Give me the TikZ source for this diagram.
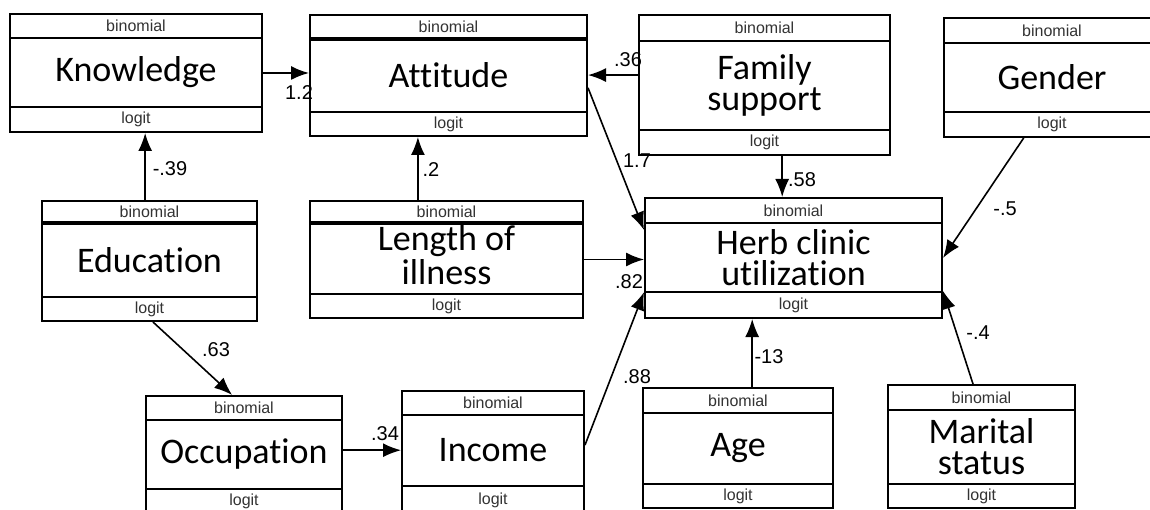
\documentclass[tikz,border=0pt]{standalone}
\usepackage{fontspec}
\setmainfont{Carlito}[Ligatures={NoCommon}]
\newfontfamily\labf{Liberation Sans}
\usetikzlibrary{arrows.meta,calc,fit}
\tikzset{
  varframe/.style={draw, line width=2pt, inner sep=0pt, fill=white},
  sepline/.style={line width=2pt},
  thicksep/.style={line width=4pt},
  arr/.style={line width=1.6pt, -{Latex[length=18pt,width=14pt]}},
  smalltxt/.style={font=\labf\fontsize{16}{16}\selectfont, inner sep=0pt, text=black!80},
  maintxt/.style={font=\fontsize{36}{31}\selectfont, align=center, inner sep=0pt},
  lbl/.style={font=\labf\fontsize{20}{20}\selectfont, inner sep=0pt},
}
% #1 sep style, #2 name, #3 x1, #4 y1, #5 x2, #6 y2, #7 y of binomial line, #8 y of logit line, #9 text
\newcommand\semvar[9][sepline]{%
  \node[varframe, fit={(#3,#4) (#5,#6)}] (#2) {};
  \draw[#1] (#3,#7) -- (#5,#7);
  \draw[sepline] (#3,#8) -- (#5,#8);
  \node[smalltxt] (#2-bin) at ({(#3+#5)/2},{(#4+#7)/2}) {binomial};
  \node[maintxt] (#2-txt) at ({(#3+#5)/2},{(#7+#8)/2}) {#9};
  \node[smalltxt] (#2-log) at ({(#3+#5)/2},{(#8+#6)/2}) {logit};
}
\begin{document}
\begin{tikzpicture}[x=1pt,y=-1pt]
\useasboundingbox (0,0) rectangle (1150,510);
\fill[white] (0,0) rectangle (1150,510);
\clip (0,0) rectangle (1150,510);

\semvar{know}{10}{14}{262}{132}{38}{107}{Knowledge}
\semvar[thicksep]{att}{310}{15}{587}{136}{39}{112}{Attitude}
\semvar{fam}{639}{15}{890}{155}{41}{130}{Family\\support}
\semvar{gen}{944}{18}{1160}{137}{43}{112}{Gender}
\semvar[thicksep]{edu}{42}{201}{257}{321}{223}{297}{Education}
\semvar[thicksep]{len}{310}{201}{583}{318}{223}{294}{}
\node[maintxt, font=\fontsize{36}{34}\selectfont] (len-txt2) at (446.5,255) {Length of\\illness};
\semvar{herb}{645}{198}{942}{318}{223}{292}{Herb clinic\\utilization}
\semvar{occ}{146}{396}{342}{514}{420}{489}{Occupation}
\semvar{inc}{402}{391}{584}{514}{415}{486}{Income}
\semvar{age}{643}{388}{833}{508}{413}{484}{Age}
\semvar{mar}{888}{385}{1075}{508}{410}{484}{Marital\\status}

% anchor points
\coordinate (famL) at ($(fam.north west)!0.43!(fam.south west)$);
\coordinate (attR) at ($(att.north east)!0.6!(att.south east)$);
\coordinate (herbL1) at ($(herb.north west)!0.27!(herb.south west)$);
\coordinate (herbL2) at ($(herb.north west)!0.78!(herb.south west)$);
\coordinate (herbR2) at ($(herb.north east)!0.77!(herb.south east)$);
\coordinate (famB) at ($(fam.south west)!0.57!(fam.south east)$);
\coordinate (genB) at ($(gen.south west)!0.37!(gen.south east)$);
\coordinate (eduT) at ($(edu.north west)!0.48!(edu.north east)$);
\coordinate (eduB) at ($(edu.south west)!0.516!(edu.south east)$);
\coordinate (lenT) at ($(len.north west)!0.396!(len.north east)$);
\coordinate (occT) at ($(occ.north west)!0.44!(occ.north east)$);
\coordinate (occR) at ($(occ.north east)!0.46!(occ.south east)$);
\coordinate (incR) at ($(inc.north east)!0.44!(inc.south east)$);
\coordinate (ageT) at ($(age.north west)!0.574!(age.north east)$);
\coordinate (marT) at ($(mar.north west)!0.455!(mar.north east)$);

% connectors
\draw[arr] (know.east) -- (know.east -| att.west);
\draw[arr] (famL) -- (famL -| att.east);
\draw[arr] (attR) -- (herbL1);
\draw[arr] (famB) -- (famB |- herb.north);
\draw[arr] (genB) -- (herb.east);
\draw[arr] (eduT) -- (eduT |- know.south);
\draw[arr] (lenT) -- (lenT |- att.south);
\draw[arr] (len.east) -- (len.east -| herb.west);
\draw[arr] (eduB) -- (occT);
\draw[arr] (occR) -- (occR -| inc.west);
\draw[arr] (incR) -- (herbL2);
\draw[arr] (ageT) -- (ageT |- herb.south);
\draw[arr] (marT) -- (herbR2);

% coefficients
\node[lbl] (c1) at (299,93) {1.2};
\node[lbl] (c2) at (628,60) {.36};
\node[lbl] (c3) at (637,161) {1.7};
\node[lbl] (c4) at (802,180) {.58};
\node[lbl] (c5) at (1005,209) {-.5};
\node[lbl] (c6) at (170,169) {-.39};
\node[lbl] (c7) at (431,170) {.2};
\node[lbl] (c8) at (629,282) {.82};
\node[lbl] (c9) at (216,350) {.63};
\node[lbl] (c10) at (385,434) {.34};
\node[lbl] (c11) at (637,377) {.88};
\node[lbl] (c12) at (769,357) {-13};
\node[lbl] (c13) at (978,333) {-.4};
\end{tikzpicture}
\end{document}
